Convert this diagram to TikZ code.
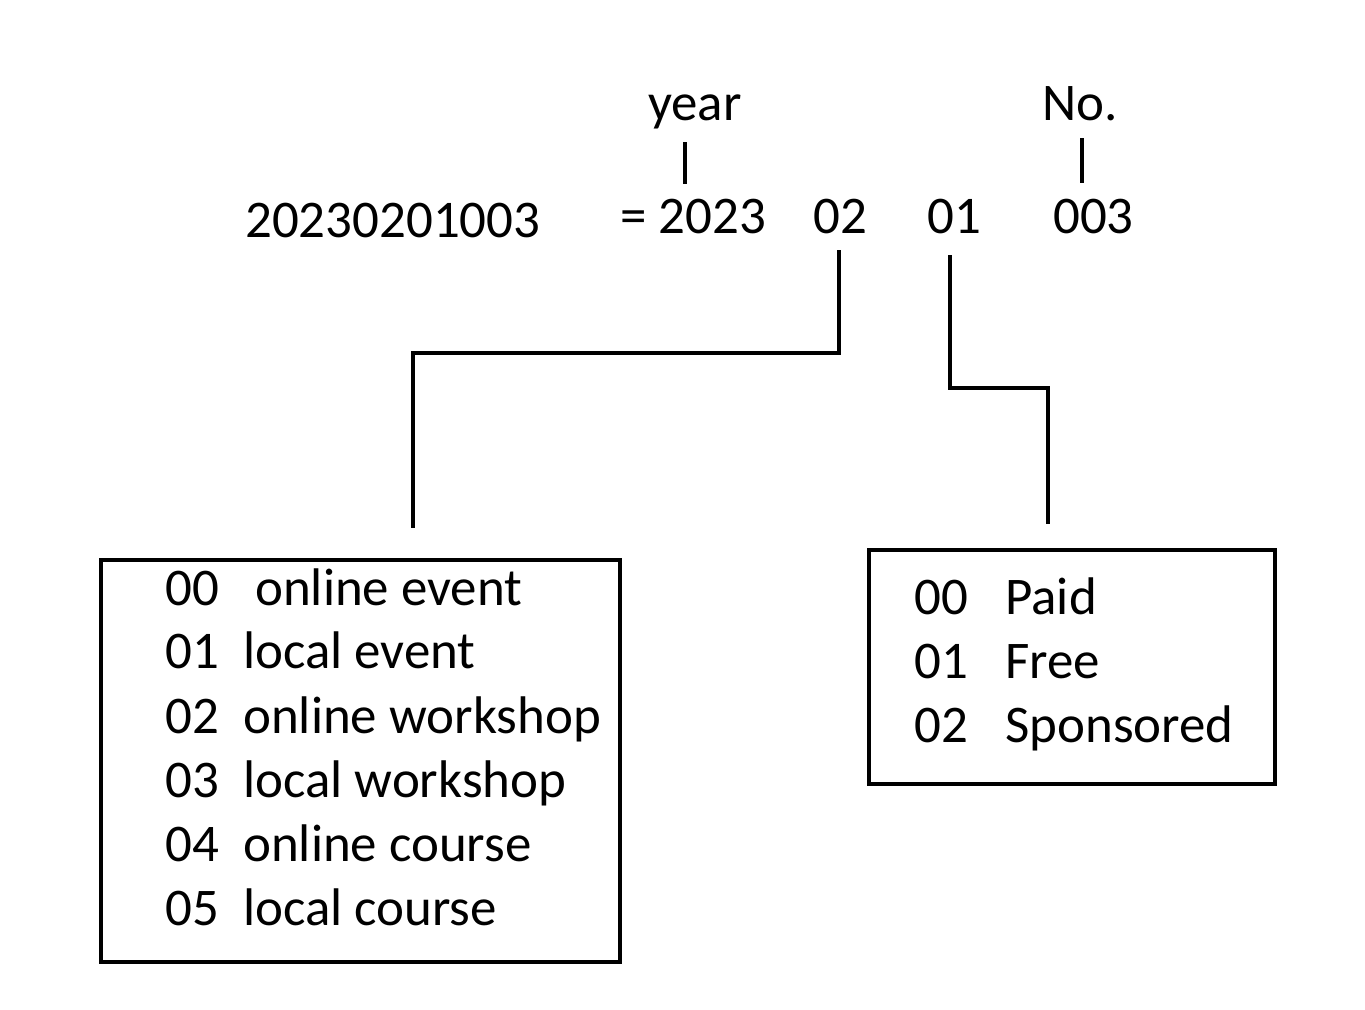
\documentclass[tikz,border=0pt]{standalone}
\usepackage{fontspec}
\setmainfont{Carlito}
\begin{document}
\begin{tikzpicture}[x=0.75pt,y=-0.75pt,
  lbl/.style={anchor=base west,inner sep=0pt,font=\fontsize{39.7}{47}\selectfont},
  lblc/.style={anchor=base,inner sep=0pt,font=\fontsize{39.7}{47}\selectfont},
  ln/.style={line width=3pt},
  box/.style={line width=3pt}]
\useasboundingbox (0,0) rectangle (1365,1010);
% top labels
\node[lblc] (year) at (695,120) {year};
\node[lblc] (no) at (1080,120) {No.};
\node[lbl] (code) at (245,237) {20230201003};
\node[lbl] (y2023) at (620,233) {= 2023};
\node[lbl] (m02) at (813,233) {02};
\node[lbl] (t01) at (927,233) {01};
\node[lbl] (n003) at (1053,233) {003};
% ticks
\coordinate (ya) at (685,142); \coordinate (yb) at (685,184);
\draw[ln] (ya) -- (yb);
\coordinate (na) at (1082,138); \coordinate (nb) at (1082,183);
\draw[ln] (na) -- (nb);
% connectors
\coordinate (c1) at (839,250); \coordinate (c2) at (413,528);
\draw[ln] (c1) -- (839,353) -- (413,353) -- (c2);
\coordinate (d1) at (950,255); \coordinate (d2) at (1048,524);
\draw[ln] (d1) -- (950,388) -- (1048,388) -- (d2);
% boxes
\draw[box] (101,560) rectangle (620,962);
\node (lbox) at (360,761) {};
\draw[box] (869,550) rectangle (1275,784);
\node (rbox) at (1072,667) {};
% left box entries
\node[lbl] (l0n) at (165,605) {00}; \node[lbl] (l0t) at (255,605) {online event};
\node[lbl] (l1n) at (165,668) {01}; \node[lbl] (l1t) at (243,668) {local event};
\node[lbl] (l2n) at (165,733) {02}; \node[lbl] (l2t) at (243,733) {online workshop};
\node[lbl] (l3n) at (165,797) {03}; \node[lbl] (l3t) at (243,797) {local workshop};
\node[lbl] (l4n) at (165,861) {04}; \node[lbl] (l4t) at (243,861) {online course};
\node[lbl] (l5n) at (165,925) {05}; \node[lbl] (l5t) at (243,925) {local course};
% right box entries
\node[lbl] (r0n) at (914,614) {00}; \node[lbl] (r0t) at (1005,614) {Paid};
\node[lbl] (r1n) at (914,678) {01}; \node[lbl] (r1t) at (1005,678) {Free};
\node[lbl] (r2n) at (914,742) {02}; \node[lbl] (r2t) at (1005,742) {Sponsored};
\end{tikzpicture}
\end{document}
